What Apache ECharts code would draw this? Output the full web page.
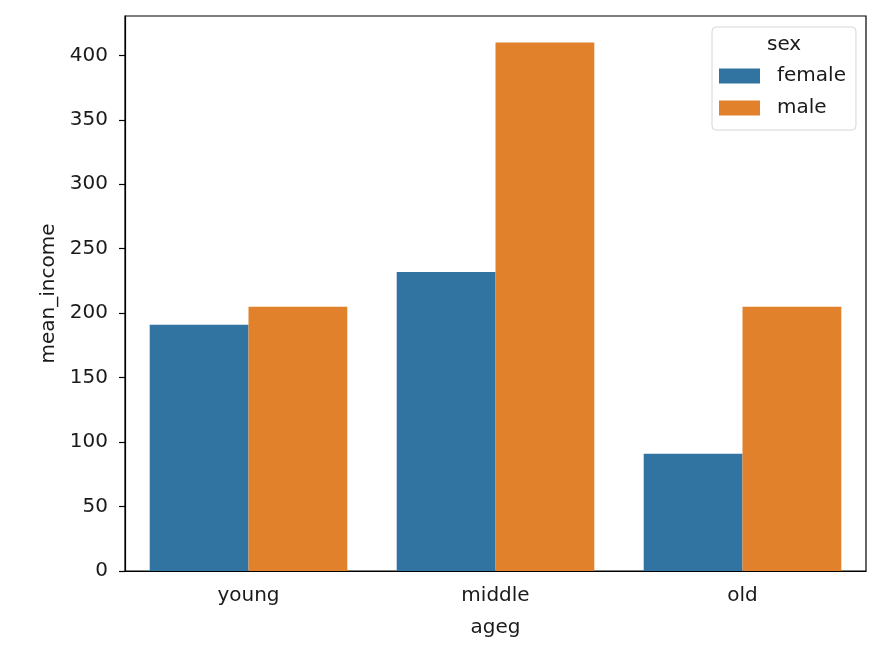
<!DOCTYPE html>
<html>
<head>
<meta charset="utf-8">
<script src="https://cdn.jsdelivr.net/npm/echarts@6/dist/echarts.min.js"></script>
<style>
  html, body { margin: 0; padding: 0; background: #fff; }
  #chart { width: 883px; height: 648px; }
</style>
</head>
<body>
<div id="chart"></div>
<script>
// data
const ageGroups = ['young', 'middle', 'old'];
const femaleIncome = [191, 232, 91];
const maleIncome = [205, 410, 205];
const seriesNames = ['female', 'male'];

const font = 'DejaVu Sans';
const textColor = '#1a1a1a';
const fontSize = 20;

let chart = echarts.init(document.getElementById('chart'));

chart.setOption({
    animation: false,
    textStyle: {fontFamily: font},
    grid: {
        left: 125,
        right: 17,
        top: 16,
        bottom: 77,
        show: true,
        borderColor: '#000',
        borderWidth: 1.2,
        backgroundColor: 'transparent'
    },
    legend: {
        data: seriesNames,
        orient: 'vertical',
        left: 712,
        top: 27,
        padding: [39, 10, 12, 7],
        itemWidth: 41,
        itemHeight: 15,
        itemGap: 12,
        icon: 'rect',
        borderColor: '#d6d6d6',
        borderWidth: 1,
        borderRadius: 4,
        backgroundColor: 'rgba(255,255,255,0.8)',
        textStyle: {
            fontFamily: font,
            fontSize: fontSize,
            color: textColor,
            padding: [0, 0, 0, 12]
        }
    },
    graphic: [{
        type: 'text',
        z: 100,
        left: 767,
        top: 35,
        style: {
            text: 'sex',
            font: fontSize + 'px "DejaVu Sans"',
            fill: textColor
        }
    }],
    xAxis: {
        type: 'category',
        data: ageGroups,
        name: 'ageg',
        nameLocation: 'middle',
        nameGap: 47,
        nameTextStyle: {fontSize: fontSize, color: textColor, fontFamily: font},
        axisLine: {lineStyle: {color: '#000', width: 1.2}},
        axisTick: {alignWithLabel: true, length: 6, lineStyle: {color: '#000', width: 1.2}},
        axisLabel: {fontSize: fontSize, color: textColor, margin: 15, fontFamily: font},
        splitLine: {show: false}
    },
    yAxis: {
        type: 'value',
        min: 0,
        max: 430.5,
        interval: 50,
        name: 'mean_income',
        nameLocation: 'middle',
        nameGap: 65,
        nameTextStyle: {fontSize: fontSize, color: textColor, fontFamily: font},
        axisLine: {show: true, lineStyle: {color: '#000', width: 1.2}},
        axisTick: {show: true, length: 6, lineStyle: {color: '#000', width: 1.2}},
        axisLabel: {fontSize: fontSize, color: textColor, margin: 17, fontFamily: font, showMaxLabel: false},
        splitLine: {show: false}
    },
    series: [{
        name: 'female',
        type: 'bar',
        data: femaleIncome,
        itemStyle: {color: '#3174a1'},
        barGap: '0%',
        barCategoryGap: '20%'
    }, {
        name: 'male',
        type: 'bar',
        data: maleIncome,
        itemStyle: {color: '#e1812c'},
        barGap: '0%',
        barCategoryGap: '20%'
    }]
});
</script>
</body>
</html>
